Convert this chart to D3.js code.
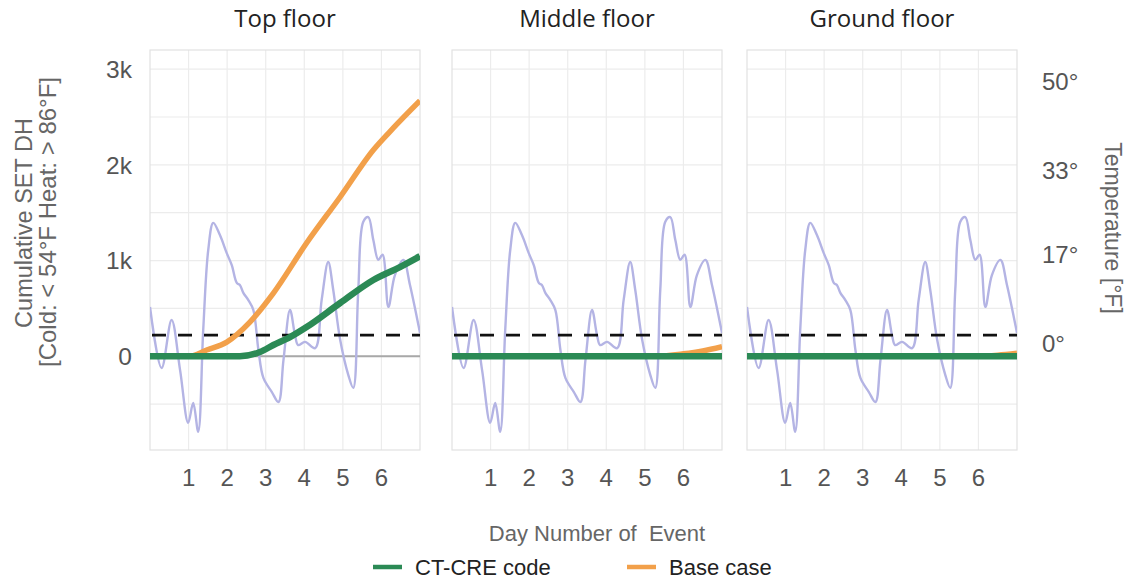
<!DOCTYPE html>
<html><head><meta charset="utf-8">
<script src="https://cdn.jsdelivr.net/npm/d3@7"></script>
<style>body{margin:0;background:#fff} svg{display:block} text{font-family:"Liberation Sans",Arial,sans-serif} .title{font-family:"Open Sans","Noto Sans",sans-serif}</style>
</head><body><svg id="c" width="1127" height="579"></svg>
<script>
const floors = ["Top floor", "Middle floor", "Ground floor"];
const dayTicks = [1, 2, 3, 4, 5, 6];
const dhTicks = [0, 1000, 2000, 3000];
const dhTickLabels = ["0", "1k", "2k", "3k"];
const dhGrid = [-500, 0, 500, 1000, 1500, 2000, 2500, 3000];
const tempTicks = [0, 17, 33, 50];
const tempTickLabels = ["0°", "17°", "33°", "50°"];
const thresholdTemp = 1.5;

const tempDays = [0.00,0.30,0.56,0.78,0.99,1.12,1.25,1.38,1.51,1.64,1.81,1.99,2.12,2.25,2.33,2.42,2.55,2.68,2.81,2.94,3.16,3.33,3.46,3.63,3.76,3.84,4.02,4.28,4.45,4.62,4.75,4.93,5.14,5.27,5.40,5.53,5.66,5.79,5.92,6.03,6.18,6.35,6.57,6.74,6.96,7.00];
const tempValues = [6.9,-4.8,4.4,-5.2,-15.3,-11.5,-17.0,2.5,17.8,23.0,20.7,17.2,14.9,11.5,11.1,9.6,8.2,6.3,-1.3,-6.7,-9.4,-11.3,-3.3,6.3,1.5,-0.4,0.2,-1.0,8.2,15.5,10.2,0.6,-6.1,-8.6,10.2,23.2,24.1,19.7,15.9,16.9,6.9,13.0,15.9,11.1,3.4,1.9];

const baseTopDays = [0, 1.04, 1.47, 1.99, 2.59, 3.20, 4.06, 4.93, 5.79, 6.31, 7.0];
const baseTopValues = [0, 0, 65, 148, 357, 660, 1183, 1664, 2155, 2385, 2670];
const ctTopDays = [0, 2.33, 2.85, 3.2, 3.63, 4.06, 4.93, 5.79, 6.48, 7.0];
const ctTopValues = [0, 0, 44, 117, 200, 305, 556, 796, 932, 1045];
const baseMidDays = [0, 5.3, 6.0, 6.5, 7.0];
const baseMidValues = [0, 0, 25, 55, 100];
const ctMidDays = [0, 7];
const ctMidValues = [0, 0];
const baseGndDays = [0, 6.0, 6.5, 7.0];
const baseGndValues = [0, 0, 10, 30];
const ctGndDays = [0, 7];
const ctGndValues = [0, 0];

const baseSeries = [[baseTopDays, baseTopValues], [baseMidDays, baseMidValues], [baseGndDays, baseGndValues]];
const ctSeries = [[ctTopDays, ctTopValues], [ctMidDays, ctMidValues], [ctGndDays, ctGndValues]];

const C = {orange: "#f2a04a", green: "#2b8a55", temp: "#b4b4e4", grid: "#ececec", border: "#e2e2e2", zero: "#a8a8a8"};

const svg = d3.select("#c");
const panelLeft = [150, 452, 747], panelW = 270, pTop = 50, pBottom = 450;
const y = d3.scaleLinear().domain([-980, 3200]).range([pBottom, pTop]);
const yT = d3.scaleLinear().domain([-20.5, 56.1]).range([pBottom, pTop]);

floors.forEach((name, i) => {
  const x = d3.scaleLinear().domain([0, 7]).range([panelLeft[i], panelLeft[i] + panelW]);
  const g = svg.append("g");
  const clipId = "clip" + i;
  svg.append("clipPath").attr("id", clipId).append("rect")
    .attr("x", panelLeft[i]).attr("y", pTop).attr("width", panelW).attr("height", pBottom - pTop);

  g.selectAll(".vg").data(dayTicks).join("line")
    .attr("x1", d => x(d)).attr("x2", d => x(d)).attr("y1", pTop).attr("y2", pBottom)
    .attr("stroke", C.grid).attr("stroke-width", 1.2);
  g.selectAll(".hg").data(dhGrid).join("line")
    .attr("x1", panelLeft[i]).attr("x2", panelLeft[i] + panelW).attr("y1", d => y(d)).attr("y2", d => y(d))
    .attr("stroke", C.grid).attr("stroke-width", 1.2);
  g.append("rect").attr("x", panelLeft[i]).attr("y", pTop).attr("width", panelW).attr("height", pBottom - pTop)
    .attr("fill", "none").attr("stroke", C.border).attr("stroke-width", 1.2);

  g.append("line").attr("x1", panelLeft[i]).attr("x2", panelLeft[i] + panelW)
    .attr("y1", y(0)).attr("y2", y(0)).attr("stroke", C.zero).attr("stroke-width", 2);

  const lineT = d3.line().x((d, k) => x(tempDays[k])).y(d => yT(d)).curve(d3.curveCatmullRom.alpha(0.5));
  g.append("path").datum(tempValues).attr("d", lineT).attr("fill", "none")
    .attr("stroke", C.temp).attr("stroke-width", 2.4).attr("clip-path", `url(#${clipId})`);

  g.append("line").attr("x1", panelLeft[i] + 2).attr("x2", panelLeft[i] + panelW)
    .attr("y1", yT(thresholdTemp)).attr("y2", yT(thresholdTemp))
    .attr("stroke", "#111").attr("stroke-width", 2.6).attr("stroke-dasharray", "14,12");

  const mk = ([ds, vs]) => d3.line().x((d, k) => x(ds[k])).y(d => y(d)).curve(d3.curveMonotoneX)(vs);
  g.append("path").attr("d", mk(baseSeries[i])).attr("fill", "none").attr("stroke", C.orange)
    .attr("stroke-width", 5.5).attr("clip-path", `url(#${clipId})`);
  g.append("path").attr("d", mk(ctSeries[i])).attr("fill", "none").attr("stroke", C.green)
    .attr("stroke-width", 6.5).attr("clip-path", `url(#${clipId})`);

  svg.append("text").attr("class", "title").attr("x", panelLeft[i] + panelW / 2).attr("y", 27).attr("text-anchor", "middle")
    .attr("font-size", 24).attr("fill", "#222").text(name);

  g.selectAll(".xt").data(dayTicks).join("text")
    .attr("x", d => x(d)).attr("y", 477).attr("dy", "0.36em").attr("text-anchor", "middle")
    .attr("font-size", 24).attr("fill", "#555").text(d => d);
});

svg.selectAll(".yl").data(dhTicks).join("text")
  .attr("x", 132).attr("y", d => y(d)).attr("dy", "0.36em").attr("text-anchor", "end")
  .attr("font-size", 24.5).attr("fill", "#555").text((d, k) => dhTickLabels[k]);
svg.append("text").attr("transform", "translate(32,223) rotate(-90)").attr("text-anchor", "middle")
  .attr("font-size", 23.5).attr("fill", "#666").text("Cumulative SET DH");
svg.append("text").attr("transform", "translate(56,222) rotate(-90)").attr("text-anchor", "middle")
  .attr("font-size", 24).attr("fill", "#666").text("[Cold: < 54°F Heat: > 86°F]");

svg.selectAll(".yr").data(tempTicks).join("text")
  .attr("x", 1042).attr("y", d => yT(d)).attr("dy", "0.36em").attr("text-anchor", "start")
  .attr("font-size", 24).attr("fill", "#555").text((d, k) => tempTickLabels[k]);
svg.append("text").attr("transform", "translate(1105,228) rotate(90)").attr("text-anchor", "middle")
  .attr("font-size", 23).attr("fill", "#666").text("Temperature [°F]");

svg.append("text").attr("x", 597).attr("y", 541).attr("text-anchor", "middle")
  .attr("font-size", 22).attr("fill", "#666").style("white-space", "pre").text("Day Number of  Event");

const legend = [["CT-CRE code", C.green, 373], ["Base case", C.orange, 627]];
legend.forEach(([t, col, lx]) => {
  svg.append("line").attr("x1", lx).attr("x2", lx + 29).attr("y1", 567).attr("y2", 567)
    .attr("stroke", col).attr("stroke-width", 4.5);
  svg.append("text").attr("x", lx + 42).attr("y", 567).attr("dy", "0.36em")
    .attr("font-size", 22).attr("fill", "#222").text(t);
});
</script></body></html>
